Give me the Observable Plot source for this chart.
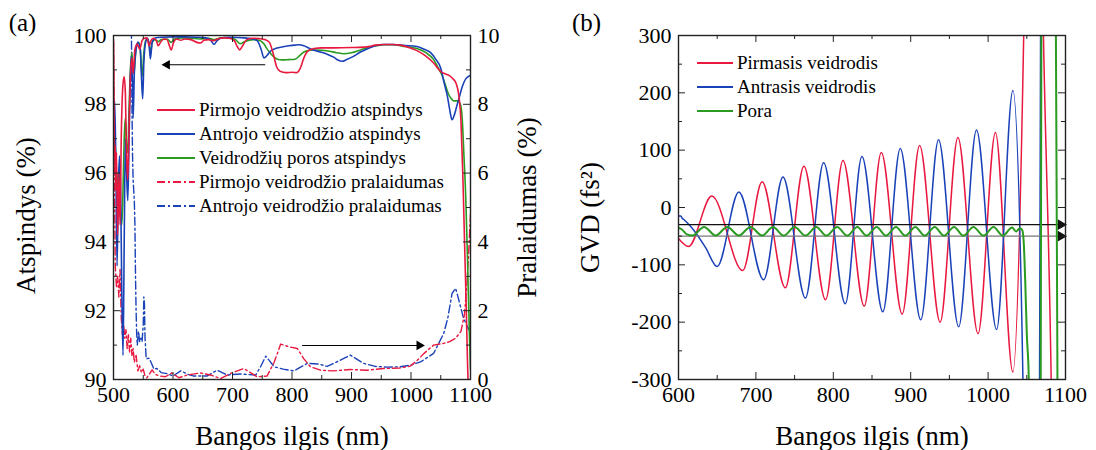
<!DOCTYPE html>
<html><head><meta charset="utf-8">
<script src="https://cdn.jsdelivr.net/npm/d3@7"></script>
<script src="https://cdn.jsdelivr.net/npm/@observablehq/plot@0.6"></script>
<style>
body{margin:0;background:#fff;font-family:"Liberation Serif","DejaVu Serif","Times New Roman",serif;}
#wrap{position:relative;width:1096px;height:450px;display:flex;}
.lg{position:absolute;display:flex;align-items:center;white-space:nowrap;height:24px;font-size:19px;color:#000;font-family:"Liberation Serif","DejaVu Serif","Times New Roman",serif;}
.lg svg{margin-right:4px;display:block;}
svg text{font-family:"Liberation Serif","DejaVu Serif","Times New Roman",serif;}
</style></head><body>
<div id="wrap"><div id="pa"></div><div id="pb"></div></div>
<script>
// ---------- Panel (a) data: wavelength (nm) vs reflectance / transmission (%) ----------
const xTicksA = [500, 600, 700, 800, 900, 1000, 1100];
const xMinorA = [550, 650, 750, 850, 950, 1050];
const yTicksA = [90, 92, 94, 96, 98, 100];
const yMinorA = [91, 93, 95, 97, 99];
const rightTickLabels = [0, 2, 4, 6, 8, 10];

const reflFirst = [[500,99.8],[501,97.5],[502,96.2],[503,96.8],[504,95.5],[505,96.6],[507,94.2],[509,96.0],[511,94.5],[513,97.0],[516,98.6],[518,98.8],[520,98.3],[522,96.5],[524,95.8],[526,97.2],[528,98.6],[531,99.35],[533,98.9],[536,99.6],[540,99.75],[544,99.6],[548,99.85],[552,99.92],[556,99.93],[560,99.7],[563,99.85],[567,99.92],[572,99.85],[575,99.7],[579,99.8],[584,99.9],[590,99.88],[594,99.7],[597,99.58],[601,99.8],[606,99.9],[613,99.86],[620,99.9],[630,99.88],[640,99.8],[646,99.78],[652,99.86],[660,99.88],[668,99.85],[675,99.9],[685,99.93],[695,99.92],[703,99.85],[708,99.68],[712,99.58],[717,99.7],[724,99.88],[735,99.92],[745,99.91],[755,99.88],[762,99.8],[768,99.5],[774,99.1],[780,98.96],[790,98.92],[800,98.93],[808,98.92],[814,99.05],[820,99.35],[827,99.55],[837,99.62],[850,99.64],[870,99.64],[900,99.65],[926,99.67],[940,99.72],[954,99.74],[970,99.74],[982,99.72],[995,99.66],[1010,99.56],[1025,99.4],[1038,99.2],[1050,98.95],[1058,98.88],[1064,98.84],[1070,98.75],[1076,98.6],[1080,98.3],[1084,97.5],[1087,96.0],[1090,94.0],[1093,92.0],[1095,90.5],[1097,89.5],[1100,89]];

const reflSecond = [[500,97.6],[502,98.1],[504,96.2],[506,93.3],[508,95.5],[510,96.5],[512,95.5],[514,92.5],[516,90.7],[518,94.0],[520,97.0],[522,96.0],[524,95.2],[526,96.8],[528,98.6],[530,99.4],[532,98.6],[533,97.6],[535,98.9],[538,99.6],[541,99.8],[545,99.6],[547,98.8],[549,98.16],[551,99.2],[554,99.8],[557,99.92],[560,99.7],[562,99.32],[565,99.8],[570,99.93],[580,99.95],[600,99.96],[620,99.96],[640,99.95],[655,99.93],[664,99.85],[669,99.74],[674,99.85],[685,99.94],[700,99.95],[720,99.93],[735,99.9],[742,99.84],[748,99.6],[753,99.35],[758,99.42],[764,99.55],[772,99.62],[781,99.66],[795,99.7],[805,99.72],[812,99.73],[820,99.7],[831,99.61],[848,99.52],[860,99.45],[870,99.37],[878,99.28],[884,99.25],[892,99.3],[904,99.4],[915,99.52],[926,99.61],[940,99.7],[954,99.74],[970,99.74],[990,99.71],[1010,99.68],[1022,99.6],[1033,99.5],[1042,99.3],[1050,99.05],[1056,98.6],[1061,98.25],[1065,97.85],[1069,97.55],[1073,97.7],[1077,97.95],[1081,98.2],[1086,98.5],[1092,98.74],[1100,98.84]];

const reflPair = [[500,96.8],[502,97.0],[504,96.4],[506,95.5],[508,96.0],[510,95.8],[512,94.8],[514,94.5],[516,95.5],[518,97.0],[520,97.6],[522,96.8],[524,96.6],[526,97.8],[529,99.2],[531,99.5],[533,98.9],[535,99.0],[538,99.65],[542,99.8],[545,99.6],[548,98.8],[551,99.5],[554,99.85],[557,99.9],[560,99.75],[562,99.45],[565,99.8],[570,99.88],[575,99.82],[580,99.88],[590,99.9],[597,99.8],[603,99.9],[615,99.93],[630,99.92],[645,99.9],[660,99.92],[670,99.88],[680,99.93],[695,99.94],[705,99.88],[713,99.76],[720,99.82],[735,99.88],[747,99.85],[753,99.75],[758,99.61],[764,99.48],[770,99.37],[777,99.3],[783,99.29],[795,99.3],[805,99.31],[812,99.4],[820,99.52],[830,99.57],[837,99.58],[850,99.57],[860,99.55],[875,99.5],[887,99.47],[900,99.5],[915,99.58],[930,99.66],[945,99.71],[954,99.73],[970,99.73],[990,99.68],[1010,99.62],[1025,99.5],[1038,99.3],[1046,99.05],[1052,98.85],[1058,98.55],[1063,98.3],[1067,98.18],[1072,98.1],[1078,98.1],[1083,98.0],[1086,97.6],[1089,96.5],[1092,95.3],[1095,93.5],[1098,91.4],[1100,90.3]];

const transFirst = [[500,9.9],[501,7.5],[502,5.0],[503,3.3],[505,2.7],[507,3.0],[509,2.4],[511,3.2],[513,1.8],[515,1.3],[517,1.6],[519,1.2],[521,1.45],[523,0.9],[525,1.3],[527,0.8],[529,1.2],[531,0.7],[533,0.9],[535,0.5],[538,0.7],[541,0.25],[544,0.4],[547,0.2],[550,0.3],[553,0.1],[556,0.05],[560,0.15],[565,0.28],[570,0.15],[578,0.1],[587,0.08],[598,0.19],[610,0.05],[624,0.13],[646,0.19],[663,0.13],[680,0.03],[696,0.17],[719,0.32],[741,0.08],[758,0.1],[770,0.5],[781,1.03],[795,0.95],[809,0.9],[820,0.6],[831,0.37],[848,0.27],[870,0.25],[898,0.29],[926,0.27],[954,0.32],[980,0.33],[999,0.39],[1010,0.55],[1022,0.76],[1038,1.0],[1055,1.05],[1065,1.1],[1075,1.2],[1084,1.4],[1090,1.9],[1094,2.8],[1097,3.7],[1100,4.8]];

const transSecond = [[500,14],[528,14],[530,10.5],[531,8],[532,6.5],[533,5.8],[534,5.5],[535,5.2],[536,4.5],[537,3.0],[538,2.0],[539,1.3],[540,1.0],[542,1.4],[544,1.1],[546,1.2],[548,1.1],[550,1.6],[551,2.4],[552,2.2],[553,1.2],[555,0.6],[560,0.62],[563,0.5],[568,0.3],[573,0.32],[580,0.2],[590,0.17],[600,0.1],[613,0.25],[625,0.15],[635,0.1],[657,0.1],[674,0.27],[691,0.13],[713,0.16],[739,0.13],[748,0.4],[756,0.68],[770,0.37],[785,0.3],[803,0.25],[826,0.47],[845,0.45],[859,0.38],[880,0.55],[898,0.71],[920,0.47],[940,0.38],[960,0.36],[982,0.37],[1000,0.42],[1016,0.51],[1038,0.76],[1055,1.34],[1062,1.8],[1069,2.5],[1075,2.65],[1079,2.4],[1088,1.8],[1097,1.45],[1100,1.4]];

const arrowReflect = [{from: 755, to: 585, value: 99.15}];
const arrowTrans = [{from: 817, to: 1019, value: 0.99}];

const legendA = ["Pirmojo veidrodžio atspindys","Antrojo veidrodžio atspindys","Veidrodžių poros atspindys","Pirmojo veidrodžio pralaidumas","Antrojo veidrodžio pralaidumas"];

// ---------- Panel (b) data: GVD (fs^2) ----------
const xTicksB = [600, 700, 800, 900, 1000, 1100];
const xMinorB = [650, 750, 850, 950, 1050];
const yTicksB = [-300, -200, -100, 0, 100, 200, 300];
const yMinorB = [-250, -150, -50, 50, 150, 250];

const gvdFirst = [[600,-54],[613,-68],[643,20],[683,-110],[708,45],[738,-140],[762,72],[790,-161],[812.5,82],[840,-172],[862,96],[889,-186],[911.5,108],[938,-200],[961,122],[987,-220],[1009.5,131],[1032,-287],[1046,300],[1058,1500],[1071.5,300],[1081.5,-300],[1092,-1500],[1100,-1600]];
const gvdSecond = [[600,-15],[603,-15],[605,-19],[607,-21],[610,-25],[620,-40],[635,-70],[650,-103],[678,27],[710,-126],[735,53],[764,-158],[787.5,78],[815.5,-168],[837,89],[864,-182],[886.5,103],[913,-196],[936,118],[962,-208],[985,135],[1011,-213],[1032,204],[1045,-300],[1055,-1500],[1066.5,-300],[1067.8,300],[1078,1500],[1100,1600]];
const gvdPair = [[600,-35],[604,-38],[611,-47],[618,-49],[633,-34],[648,-49],[663,-34],[678,-49],[693,-34],[708,-49],[722,-34],[736,-49],[750,-34],[764,-49],[778,-34],[791,-49],[805,-34],[818,-49],[831,-34],[843,-49],[856,-34],[868,-49],[881,-34],[893,-49],[906,-34],[918,-49],[931,-34],[943,-49],[956,-34],[968,-49],[981,-34],[994,-49],[1007,-34],[1019,-49],[1031,-35],[1036,-42],[1041,-36],[1044,-39],[1046,-60],[1048,-130],[1050,-220],[1052.6,-300],[1058,-1200],[1068,-300],[1068.8,300],[1078,1200],[1087.6,300],[1089.6,-300],[1096,-1500],[1100,-1600]];
const guideLevels = [{v: -30, c: "#111"}, {v: -50, c: "#777"}];
const legendB = ["Pirmasis veidrodis","Antrasis veidrodis","Pora"];

const RED = "#e8183f", BLUE = "#1a42b8", GREEN = "#2a9a20";
const FONT = '"Liberation Serif", "DejaVu Serif", "Times New Roman", serif';

function boxTicks(xs, ys, len, fw, fh, extra = {}) {
  return [
    Plot.tickX(xs, {x: d => d, insetTop: fh - len, stroke: "#222", ...extra}),
    Plot.tickX(xs, {x: d => d, insetBottom: fh - len, stroke: "#222", ...extra}),
    Plot.tickY(ys, {y: d => d, insetRight: fw - len, stroke: "#222", ...extra}),
    Plot.tickY(ys, {y: d => d, insetLeft: fw - len, stroke: "#222", ...extra})
  ];
}

// ---------- Panel (a) ----------
const WA = 560, H = 450, MT = 35, MB = 71, MLA = 113, MRA = 90;
const fwA = WA - MLA - MRA, fh = H - MT - MB;
const px = d => d[0], py = d => d[1], pt = d => d[1] + 90;

const plotA = Plot.plot({
  width: WA, height: H, marginTop: MT, marginBottom: MB, marginLeft: MLA, marginRight: MRA,
  style: {fontFamily: FONT, fontSize: "22px", color: "#000", background: "#fff", overflow: "visible"},
  x: {domain: [500, 1100]},
  y: {domain: [90, 100]},
  marks: [
    Plot.line(transSecond, {x: px, y: pt, stroke: BLUE, strokeWidth: 1.4, strokeDasharray: "8,3,2,3", clip: true}),
    Plot.line(transFirst, {x: px, y: pt, stroke: RED, strokeWidth: 1.4, strokeDasharray: "8,3,2,3", clip: true}),
    Plot.line(reflPair, {x: px, y: py, stroke: GREEN, strokeWidth: 1.6, curve: "monotone-x", clip: true}),
    Plot.line(reflSecond, {x: px, y: py, stroke: BLUE, strokeWidth: 1.6, curve: "monotone-x", clip: true}),
    Plot.line(reflFirst, {x: px, y: py, stroke: RED, strokeWidth: 1.6, curve: "monotone-x", clip: true}),
    Plot.link(arrowReflect, {x1: "from", x2: "to", y1: "value", y2: "value", stroke: "#000", strokeWidth: 1.1}),
    Plot.dot(arrowReflect, {x: "to", y: "value", symbol: "triangle", rotate: -90, r: 3.6, fill: "#000", stroke: null, dx: 3}),
    Plot.link(arrowTrans, {x1: "from", x2: "to", y1: d => d.value + 90, y2: d => d.value + 90, stroke: "#000", strokeWidth: 1.1}),
    Plot.dot(arrowTrans, {x: "to", y: d => d.value + 90, symbol: "triangle", rotate: 90, r: 3.6, fill: "#000", stroke: null, dx: -3}),
    Plot.frame({stroke: "#222", strokeWidth: 1.4}),
    ...boxTicks(xTicksA, yTicksA, 7, fwA, fh),
    ...boxTicks(xMinorA, yMinorA, 4, fwA, fh),
    Plot.axisX(xTicksA, {anchor: "bottom", tickSize: 0, tickPadding: 7, label: null, tickFormat: d => String(d)}),
    Plot.axisY(yTicksA, {anchor: "left", tickSize: 0, tickPadding: 7, label: null, tickFormat: d => String(d)}),
    Plot.axisY(yTicksA, {anchor: "right", tickSize: 0, tickPadding: 7, label: null, tickFormat: (d, i) => String(rightTickLabels[i])}),
    Plot.text(["Bangos ilgis (nm)"], {text: d => d, frameAnchor: "bottom", dy: 57, fontSize: 27, lineAnchor: "middle", textAnchor: "middle"}),
    Plot.text(["Atspindys (%)"], {text: d => d, frameAnchor: "left", dx: -87, dy: 8, rotate: -90, fontSize: 27, textAnchor: "middle", lineAnchor: "middle"}),
    Plot.text(["Pralaidumas (%)"], {text: d => d, frameAnchor: "right", dx: 57, rotate: -90, fontSize: 27, textAnchor: "middle", lineAnchor: "middle"}),
    Plot.text(["(a)"], {text: d => d, frameAnchor: "top-left", dx: -91, dy: -13, fontSize: 25, lineAnchor: "middle", textAnchor: "middle"})
  ]
});
document.getElementById("pa").appendChild(plotA);

// ---------- Panel (b) ----------
const WB = 536, MLB = 118, MRB = 31;
const fwB = WB - MLB - MRB;
const plotB = Plot.plot({
  width: WB, height: H, marginTop: MT, marginBottom: MB, marginLeft: MLB, marginRight: MRB,
  style: {fontFamily: FONT, fontSize: "22px", color: "#000", background: "#fff", overflow: "visible"},
  x: {domain: [600, 1100]},
  y: {domain: [-300, 300]},
  marks: [
    Plot.line(gvdFirst, {x: px, y: py, stroke: RED, strokeWidth: 1.5, curve: "monotone-x", clip: true}),
    Plot.line(gvdSecond, {x: px, y: py, stroke: BLUE, strokeWidth: 1.5, curve: "monotone-x", clip: true}),
    Plot.ruleY(guideLevels, {y: "v", stroke: "c", strokeWidth: 1.3}),
    Plot.dot(guideLevels, {x: 1094, y: "v", fill: "#111", stroke: null, symbol: "triangle", rotate: 90, r: 4}),
    Plot.line(gvdPair, {x: px, y: py, stroke: GREEN, strokeWidth: 2, curve: "monotone-x", clip: true}),
    Plot.frame({stroke: "#222", strokeWidth: 1.4}),
    ...boxTicks(xTicksB, yTicksB, 7, fwB, fh),
    ...boxTicks(xMinorB, yMinorB, 4, fwB, fh),
    Plot.axisX(xTicksB, {anchor: "bottom", tickSize: 0, tickPadding: 7, label: null, tickFormat: d => String(d)}),
    Plot.axisY(yTicksB, {anchor: "left", tickSize: 0, tickPadding: 7, label: null, tickFormat: d => String(d)}),
    Plot.text(["Bangos ilgis (nm)"], {text: d => d, frameAnchor: "bottom", dy: 57, fontSize: 27, lineAnchor: "middle", textAnchor: "middle"}),
    Plot.text(["GVD (fs²)"], {text: d => d, frameAnchor: "left", dx: -88, dy: 10, rotate: -90, fontSize: 27, textAnchor: "middle", lineAnchor: "middle"}),
    Plot.text(["(b)"], {text: d => d, frameAnchor: "top-left", dx: -92, dy: -13, fontSize: 25, lineAnchor: "middle", textAnchor: "middle"})
  ]
});
document.getElementById("pb").appendChild(plotB);

// ---------- Legends (inside plot frames) ----------
function addLegend(items, styles, left, top0, step, lineLen) {
  const wrap = document.getElementById("wrap");
  items.forEach((label, i) => {
    const row = document.createElement("div");
    row.className = "lg";
    row.style.left = left + "px";
    row.style.top = (top0 + i * step - 12) + "px";
    const s = styles[i];
    row.innerHTML = `<svg width="${lineLen}" height="10"><line x1="0" x2="${lineLen}" y1="5" y2="5" stroke="${s.c}" stroke-width="1.8" ${s.dash ? `stroke-dasharray="${s.dash}"` : ""}/></svg><span>${label}</span>`;
    wrap.appendChild(row);
  });
}
addLegend(legendA, [{c: RED}, {c: BLUE}, {c: GREEN}, {c: RED, dash: "8,3,2,3"}, {c: BLUE, dash: "8,3,2,3"}], 157, 110, 24, 38);
addLegend(legendB, [{c: RED}, {c: BLUE}, {c: GREEN}], 697, 63, 24, 36);
</script>
</body></html>
